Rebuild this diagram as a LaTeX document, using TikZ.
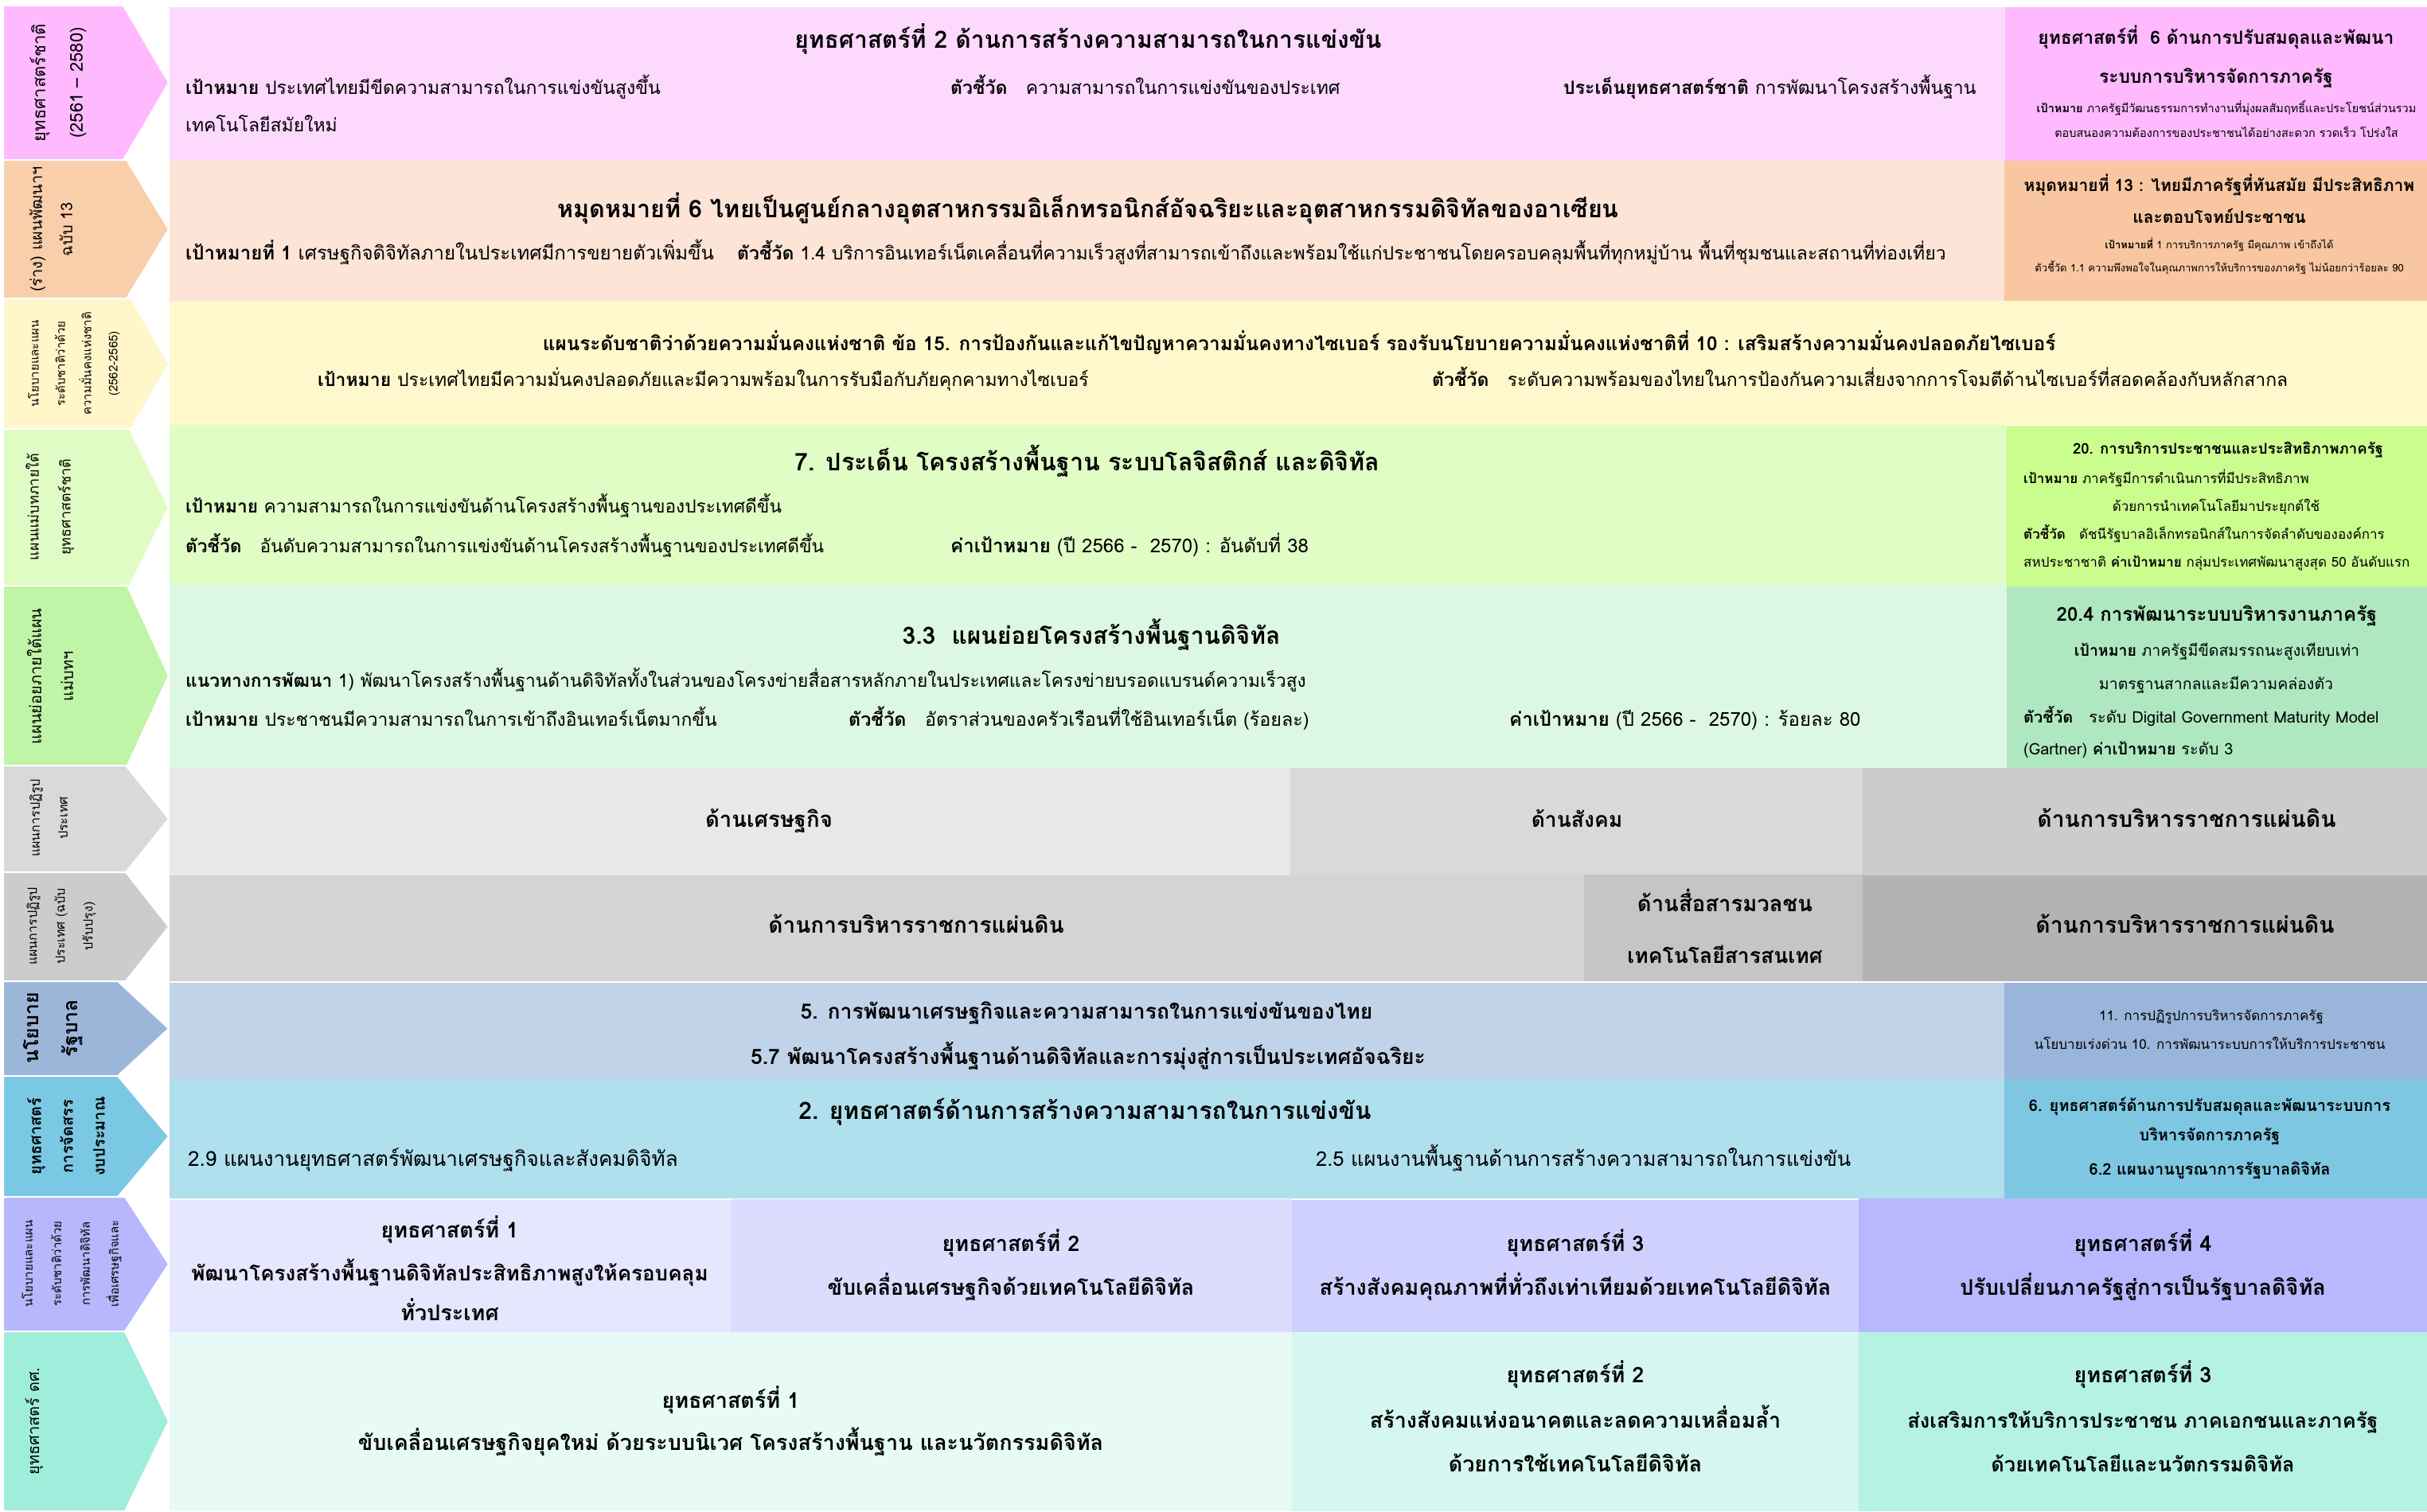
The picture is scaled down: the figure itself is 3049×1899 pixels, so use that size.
\documentclass[tikz,border=0pt]{standalone}
\usepackage{fontspec}
\setmainfont[Script=Thai]{Loma}
\newcommand\myfs[1]{\fontsize{#1}{#1}\selectfont}
\newcommand\myfsb[2]{\fontsize{#1}{#2}\selectfont}
\definecolor{a1}{HTML}{FFB9FF}\definecolor{a2}{HTML}{F9CEAB}\definecolor{a3}{HTML}{FFF6CA}
\definecolor{a4}{HTML}{E0FCC5}\definecolor{a5}{HTML}{C0F4A6}\definecolor{a6}{HTML}{D9D9D9}
\definecolor{a7}{HTML}{CCCCCC}\definecolor{a8}{HTML}{9CB6DA}\definecolor{a9}{HTML}{7BC8E4}
\definecolor{a10}{HTML}{B7B7FE}\definecolor{a11}{HTML}{9EEEDB}
\definecolor{c1}{HTML}{FDD9FD}\definecolor{c1r}{HTML}{FFB9FF}
\definecolor{c2}{HTML}{FCE4D6}\definecolor{c2r}{HTML}{F8C6A0}
\definecolor{c3}{HTML}{FFF8CC}
\definecolor{c4}{HTML}{E0FDC6}\definecolor{c4r}{HTML}{CBFC8E}
\definecolor{c5}{HTML}{DDF8E2}\definecolor{c5r}{HTML}{AFE8C0}
\definecolor{c6a}{HTML}{E8E8E8}\definecolor{c6b}{HTML}{D9D9D9}\definecolor{c6c}{HTML}{CCCCCC}
\definecolor{c7a}{HTML}{D4D4D4}\definecolor{c7b}{HTML}{C5C5C5}\definecolor{c7c}{HTML}{B3B3B3}
\definecolor{c8}{HTML}{C1D3E9}\definecolor{c8r}{HTML}{9AB5DA}
\definecolor{c9}{HTML}{B0DFEE}\definecolor{c9r}{HTML}{7EC7E3}
\definecolor{c10a}{HTML}{E6E6FF}\definecolor{c10b}{HTML}{DCDCFF}\definecolor{c10c}{HTML}{D0D0FF}\definecolor{c10d}{HTML}{B8B8FF}
\definecolor{c11a}{HTML}{E7FAF6}\definecolor{c11b}{HTML}{D5F7EF}\definecolor{c11c}{HTML}{B5F2E3}
\tikzset{
 lt/.style={anchor=base west, inner sep=0pt},
 ct/.style={anchor=base, inner sep=0pt},
 lab/.style={rotate=90, align=center, inner sep=0pt, anchor=center},
}
\begin{document}
\begin{tikzpicture}[x=1pt,y=-1pt]
\useasboundingbox (0,0) rectangle (3049,1899);
\fill[white] (0,0) rectangle (3049,1899);
% ---- content boxes
\fill[c1] (213,9) rectangle (2519,202);
\fill[c1r] (2519,9) rectangle (3049,202);
\fill[c2] (213,202) rectangle (2518,378);
\fill[c2r] (2518,202) rectangle (3049,378);
\fill[c3] (213,378) rectangle (3049,534);
\fill[c4] (213,534) rectangle (2521,735);
\fill[c4r] (2521,535) rectangle (3049,737);
\fill[c5] (213,735) rectangle (2521,965);
\fill[c5r] (2521,737) rectangle (3049,965);
\fill[c6a] (213,965) rectangle (1621,1100);
\fill[c6b] (1621,965) rectangle (2340,1100);
\fill[c6c] (2340,965) rectangle (3049,1100);
\fill[c7a] (213,1100) rectangle (1990,1233);
\fill[c7b] (1990,1099) rectangle (2340,1233);
\fill[c7c] (2340,1100) rectangle (3049,1233);
\fill[c8] (213,1235) rectangle (2518,1356);
\fill[c8r] (2518,1235) rectangle (3049,1356);
\fill[c9] (213,1356) rectangle (2518,1506);
\fill[c9r] (2518,1356) rectangle (3049,1506);
\fill[c10a] (213,1508) rectangle (918,1674);
\fill[c10b] (918,1507) rectangle (1623,1674);
\fill[c10c] (1623,1508) rectangle (2335,1674);
\fill[c10d] (2335,1506) rectangle (3049,1674);
\fill[c11a] (213,1674) rectangle (1623,1899);
\fill[c11b] (1623,1674) rectangle (2335,1899);
\fill[c11c] (2335,1674) rectangle (3049,1899);
% ---- left arrows
\foreach \ya/\yb/\xb/\c in {7/201/155/a1,201/375/159/a2,375/539/165/a3,539/736/163/a4,736/962/160/a5,962/1096/158/a6,1096/1233/158/a7,1233/1352/148/a8,1352/1504/148/a9,1504/1673/157/a10,1673/1899/157/a11}
 {\filldraw[fill=\c,draw=white,line width=2pt] (4,\ya) -- (\xb,\ya) -- (212,{(\ya+\yb)/2}) -- (\xb,\yb) -- (4,\yb) -- cycle;}
% ---- left labels
\node[lab,font=\myfsb{22}{47}] (l1) at (73,104) {ยุทธศาสตร์ชาติ\\(2561 – 2580)};
\node[lab,font=\myfsb{20}{38}] (l2) at (64,288) {(ร่าง) แผนพัฒนาฯ\\ฉบับ 13};
\node[lab,font=\myfsb{15}{33}] (l3) at (93,457) {นโยบายและแผน\\ระดับชาติว่าด้วย\\ความมั่นคงแห่งชาติ\\(2562-2565)};
\node[lab,font=\myfsb{18}{40}] (l4) at (63,637) {แผนแม่บทภายใต้\\ยุทธศาสตร์ชาติ};
\node[lab,font=\myfsb{20}{40}] (l5) at (63,850) {แผนย่อยภายใต้แผน\\แม่บทฯ};
\node[lab,font=\myfsb{16}{35}] (l6) at (61,1028) {แผนการปฏิรูป\\ประเทศ};
\node[lab,font=\myfsb{16}{35}] (l7) at (77,1164) {แผนการปฏิรูป\\ประเทศ (ฉบับ\\ปรับปรุง)};
\node[lab,font=\myfsb{25}{49}\bfseries] (l8) at (67,1292) {นโยบาย\\รัฐบาล};
\node[lab,font=\myfsb{20}{40}\bfseries] (l9) at (83,1428) {ยุทธศาสตร์\\การจัดสรร\\งบประมาณ};
\node[lab,font=\myfsb{15}{36}] (l10) at (90,1588) {นโยบายและแผน\\ระดับชาติว่าด้วย\\การพัฒนาดิจิทัล\\เพื่อเศรษฐกิจและ};
\node[lab,font=\myfs{20}] (l11) at (43,1786) {ยุทธศาสตร์ ดศ.};
% ---- row 1
\node[ct,font=\myfs{30}\bfseries] (r1t) at (1367,60) {ยุทธศาสตร์ที่ 2 ด้านการสร้างความสามารถในการแข่งขัน};
\node[lt,font=\myfs{23}] (r1a) at (233,118) {\textbf{เป้าหมาย} ประเทศไทยมีขีดความสามารถในการแข่งขันสูงขึ้น};
\node[lt,font=\myfs{23}] (r1b) at (233,165) {เทคโนโลยีสมัยใหม่};
\node[lt,font=\myfs{23}] (r1c) at (1194,118) {\textbf{ตัวชี้วัด}\ \ \ ความสามารถในการแข่งขันของประเทศ};
\node[lt,font=\myfs{23}] (r1d) at (1964,118) {\textbf{ประเด็นยุทธศาสตร์ชาติ} การพัฒนาโครงสร้างพื้นฐาน};
\node[ct,font=\myfs{22.8}\bfseries] (r1r1) at (2784,55) {ยุทธศาสตร์ที่\ \ 6 ด้านการปรับสมดุลและพัฒนา};
\node[ct,font=\myfs{22.8}\bfseries] (r1r2) at (2784,104) {ระบบการบริหารจัดการภาครัฐ};
\node[ct,font=\myfs{14.5}] (r1r3) at (2797,141.5) {\textbf{เป้าหมาย} ภาครัฐมีวัฒนธรรมการทำงานที่มุ่งผลสัมฤทธิ์และประโยชน์ส่วนรวม};
\node[ct,font=\myfs{14.5}] (r1r4) at (2797,172.5) {ตอบสนองความต้องการของประชาชนได้อย่างสะดวก รวดเร็ว โปร่งใส};
% ---- row 2
\node[ct,font=\myfs{30.5}\bfseries] (r2t) at (1367,273) {หมุดหมายที่ 6 ไทยเป็นศูนย์กลางอุตสาหกรรมอิเล็กทรอนิกส์อัจฉริยะและอุตสาหกรรมดิจิทัลของอาเซียน};
\node[lt,font=\myfs{24}] (r2a) at (233,326.5) {\textbf{เป้าหมายที่ 1} เศรษฐกิจดิจิทัลภายในประเทศมีการขยายตัวเพิ่มขึ้น};
\node[lt,font=\myfs{23}] (r2b) at (926,326.5) {\textbf{ตัวชี้วัด} 1.4 บริการอินเทอร์เน็ตเคลื่อนที่ความเร็วสูงที่สามารถเข้าถึงและพร้อมใช้แก่ประชาชนโดยครอบคลุมพื้นที่ทุกหมู่บ้าน พื้นที่ชุมชนและสถานที่ท่องเที่ยว};
\node[ct,font=\myfs{21}\bfseries] (r2r1) at (2788,240) {หมุดหมายที่ 13 : ไทยมีภาครัฐที่ทันสมัย มีประสิทธิภาพ};
\node[ct,font=\myfs{21}\bfseries] (r2r2) at (2788,280) {และตอบโจทย์ประชาชน};
\node[ct,font=\myfs{13}] (r2r3) at (2788,312) {\textbf{เป้าหมายที่} 1 การบริการภาครัฐ มีคุณภาพ เข้าถึงได้};
\node[ct,font=\myfs{13}] (r2r4) at (2788,341) {ตัวชี้วัด 1.1 ความพึงพอใจในคุณภาพการให้บริการของภาครัฐ ไม่น้อยกว่าร้อยละ 90};
% ---- row 3
\node[ct,font=\myfs{24.3}\bfseries] (r3t) at (1632,440) {แผนระดับชาติว่าด้วยความมั่นคงแห่งชาติ ข้อ 15. การป้องกันและแก้ไขปัญหาความมั่นคงทางไซเบอร์ รองรับนโยบายความมั่นคงแห่งชาติที่ 10 : เสริมสร้างความมั่นคงปลอดภัยไซเบอร์};
\node[lt,font=\myfs{23}] (r3a) at (399,485.5) {\textbf{เป้าหมาย} ประเทศไทยมีความมั่นคงปลอดภัยและมีความพร้อมในการรับมือกับภัยคุกคามทางไซเบอร์};
\node[lt,font=\myfs{23}] (r3b) at (1799,485.5) {\textbf{ตัวชี้วัด}\ \ \ ระดับความพร้อมของไทยในการป้องกันความเสี่ยงจากการโจมตีด้านไซเบอร์ที่สอดคล้องกับหลักสากล};
% ---- row 4
\node[ct,font=\myfs{30.5}\bfseries] (r4t) at (1366,591) {7. ประเด็น โครงสร้างพื้นฐาน ระบบโลจิสติกส์ และดิจิทัล};
\node[lt,font=\myfs{22.7}] (r4a) at (233,644.5) {\textbf{เป้าหมาย} ความสามารถในการแข่งขันด้านโครงสร้างพื้นฐานของประเทศดีขึ้น};
\node[lt,font=\myfs{22.7}] (r4b) at (233,694.5) {\textbf{ตัวชี้วัด}\ \ \ อันดับความสามารถในการแข่งขันด้านโครงสร้างพื้นฐานของประเทศดีขึ้น};
\node[lt,font=\myfs{24}] (r4c) at (1194,694.5) {\textbf{ค่าเป้าหมาย} (ปี 2566 -\ \ 2570) : อันดับที่ 38};
\node[ct,font=\myfs{18.6}\bfseries] (r4r1) at (2799,570.5) {20. การบริการประชาชนและประสิทธิภาพภาครัฐ};
\node[lt,font=\myfs{17}] (r4r2) at (2542,607) {\textbf{เป้าหมาย} ภาครัฐมีการดำเนินการที่มีประสิทธิภาพ};
\node[ct,font=\myfs{17}] (r4r3) at (2784,642) {ด้วยการนำเทคโนโลยีมาประยุกต์ใช้};
\node[lt,font=\myfs{17}] (r4r4) at (2542,677) {\textbf{ตัวชี้วัด}\ \ \ ดัชนีรัฐบาลอิเล็กทรอนิกส์ในการจัดลำดับขององค์การ};
\node[lt,font=\myfs{17}] (r4r5) at (2542,712) {สหประชาชาติ \textbf{ค่าเป้าหมาย} กลุ่มประเทศพัฒนาสูงสุด 50 อันดับแรก};
% ---- row 5
\node[ct,font=\myfs{30}\bfseries] (r5t) at (1371,809) {3.3\ \ แผนย่อยโครงสร้างพื้นฐานดิจิทัล};
\node[lt,font=\myfs{22.7}] (r5a) at (233,863.5) {\textbf{แนวทางการพัฒนา} 1) พัฒนาโครงสร้างพื้นฐานด้านดิจิทัลทั้งในส่วนของโครงข่ายสื่อสารหลักภายในประเทศและโครงข่ายบรอดแบรนด์ความเร็วสูง};
\node[lt,font=\myfs{22.9}] (r5b) at (233,912.5) {\textbf{เป้าหมาย} ประชาชนมีความสามารถในการเข้าถึงอินเทอร์เน็ตมากขึ้น};
\node[lt,font=\myfs{23.3}] (r5c) at (1066,912.5) {\textbf{ตัวชี้วัด}\ \ \ อัตราส่วนของครัวเรือนที่ใช้อินเทอร์เน็ต (ร้อยละ)};
\node[lt,font=\myfs{24}] (r5d) at (1896,912.5) {\textbf{ค่าเป้าหมาย} (ปี 2566 -\ \ 2570) : ร้อยละ 80};
\node[ct,font=\myfs{24}\bfseries] (r5r1) at (2785,780) {20.4 การพัฒนาระบบบริหารงานภาครัฐ};
\node[ct,font=\myfs{19.5}] (r5r2) at (2785,824) {\textbf{เป้าหมาย} ภาครัฐมีขีดสมรรถนะสูงเทียบเท่า};
\node[ct,font=\myfs{19.5}] (r5r3) at (2784,866) {มาตรฐานสากลและมีความคล่องตัว};
\node[lt,font=\myfs{20}] (r5r4) at (2542,908) {\textbf{ตัวชี้วัด}\ \ \ ระดับ Digital Government Maturity Model};
\node[lt,font=\myfs{20}] (r5r5) at (2542,948) {(Gartner) \textbf{ค่าเป้าหมาย} ระดับ 3};
% ---- row 6 / 7
\node[ct,font=\myfs{27.5}\bfseries] (r6a) at (966,1039) {ด้านเศรษฐกิจ};
\node[ct,font=\myfs{26.5}\bfseries] (r6b) at (1981,1039) {ด้านสังคม};
\node[ct,font=\myfs{28.3}\bfseries] (r6c) at (2747,1039) {ด้านการบริหารราชการแผ่นดิน};
\node[ct,font=\myfs{28}\bfseries] (r7a) at (1151,1172) {ด้านการบริหารราชการแผ่นดิน};
\node[ct,font=\myfs{27.5}\bfseries] (r7b) at (2167,1145) {ด้านสื่อสารมวลชน};
\node[ct,font=\myfs{26.5}\bfseries] (r7c) at (2167,1210) {เทคโนโลยีสารสนเทศ};
\node[ct,font=\myfs{28.3}\bfseries] (r7d) at (2745,1172) {ด้านการบริหารราชการแผ่นดิน};
% ---- row 8
\node[ct,font=\myfs{26.5}\bfseries] (r8a) at (1365,1280) {5. การพัฒนาเศรษฐกิจและความสามารถในการแข่งขันของไทย};
\node[ct,font=\myfs{26.5}\bfseries] (r8b) at (1367,1337) {5.7 พัฒนาโครงสร้างพื้นฐานด้านดิจิทัลและการมุ่งสู่การเป็นประเทศอัจฉริยะ};
\node[ct,font=\myfs{17}] (r8c) at (2778,1282) {11. การปฏิรูปการบริหารจัดการภาครัฐ};
\node[ct,font=\myfs{17}] (r8d) at (2776,1318) {นโยบายเร่งด่วน 10. การพัฒนาระบบการให้บริการประชาชน};
% ---- row 9
\node[ct,font=\myfs{30}\bfseries] (r9a) at (1363,1406) {2. ยุทธศาสตร์ด้านการสร้างความสามารถในการแข่งขัน};
\node[lt,font=\myfs{26}] (r9b) at (236,1465) {2.9 แผนงานยุทธศาสตร์พัฒนาเศรษฐกิจและสังคมดิจิทัล};
\node[lt,font=\myfs{25.5}] (r9c) at (1653,1465) {2.5 แผนงานพื้นฐานด้านการสร้างความสามารถในการแข่งขัน};
\node[ct,font=\myfs{20}\bfseries] (r9d) at (2776,1396) {6. ยุทธศาสตร์ด้านการปรับสมดุลและพัฒนาระบบการ};
\node[ct,font=\myfs{20}\bfseries] (r9e) at (2776,1433) {บริหารจัดการภาครัฐ};
\node[ct,font=\myfs{20}\bfseries] (r9f) at (2776,1476) {6.2 แผนงานบูรณาการรัฐบาลดิจิทัล};
% ---- row 10
\node[ct,font=\myfs{27}\bfseries] (r10a) at (565,1555) {ยุทธศาสตร์ที่ 1};
\node[ct,font=\myfs{26}\bfseries] (r10b) at (565,1609) {พัฒนาโครงสร้างพื้นฐานดิจิทัลประสิทธิภาพสูงให้ครอบคลุม};
\node[ct,font=\myfs{27}\bfseries] (r10c) at (565,1659) {ทั่วประเทศ};
\node[ct,font=\myfs{27}\bfseries] (r10d) at (1270,1572) {ยุทธศาสตร์ที่ 2};
\node[ct,font=\myfs{27}\bfseries] (r10e) at (1270,1627) {ขับเคลื่อนเศรษฐกิจด้วยเทคโนโลยีดิจิทัล};
\node[ct,font=\myfs{27}\bfseries] (r10f) at (1979,1572) {ยุทธศาสตร์ที่ 3};
\node[ct,font=\myfs{27}\bfseries] (r10g) at (1979,1627) {สร้างสังคมคุณภาพที่ทั่วถึงเท่าเทียมด้วยเทคโนโลยีดิจิทัล};
\node[ct,font=\myfs{27}\bfseries] (r10h) at (2692,1572) {ยุทธศาสตร์ที่ 4};
\node[ct,font=\myfs{27}\bfseries] (r10i) at (2692,1627) {ปรับเปลี่ยนภาครัฐสู่การเป็นรัฐบาลดิจิทัล};
% ---- row 11
\node[ct,font=\myfs{27}\bfseries] (r11a) at (918,1769) {ยุทธศาสตร์ที่ 1};
\node[ct,font=\myfs{27}\bfseries] (r11b) at (918,1822) {ขับเคลื่อนเศรษฐกิจยุคใหม่ ด้วยระบบนิเวศ โครงสร้างพื้นฐาน และนวัตกรรมดิจิทัล};
\node[ct,font=\myfs{27}\bfseries] (r11c) at (1979,1737) {ยุทธศาสตร์ที่ 2};
\node[ct,font=\myfs{27}\bfseries] (r11d) at (1979,1794) {สร้างสังคมแห่งอนาคตและลดความเหลื่อมล้ำ};
\node[ct,font=\myfs{27}\bfseries] (r11e) at (1979,1849) {ด้วยการใช้เทคโนโลยีดิจิทัล};
\node[ct,font=\myfs{27}\bfseries] (r11f) at (2692,1737) {ยุทธศาสตร์ที่ 3};
\node[ct,font=\myfs{25.5}\bfseries] (r11g) at (2692,1794) {ส่งเสริมการให้บริการประชาชน ภาคเอกชนและภาครัฐ};
\node[ct,font=\myfs{25.5}\bfseries] (r11h) at (2692,1849) {ด้วยเทคโนโลยีและนวัตกรรมดิจิทัล};
\end{tikzpicture}
\end{document}
